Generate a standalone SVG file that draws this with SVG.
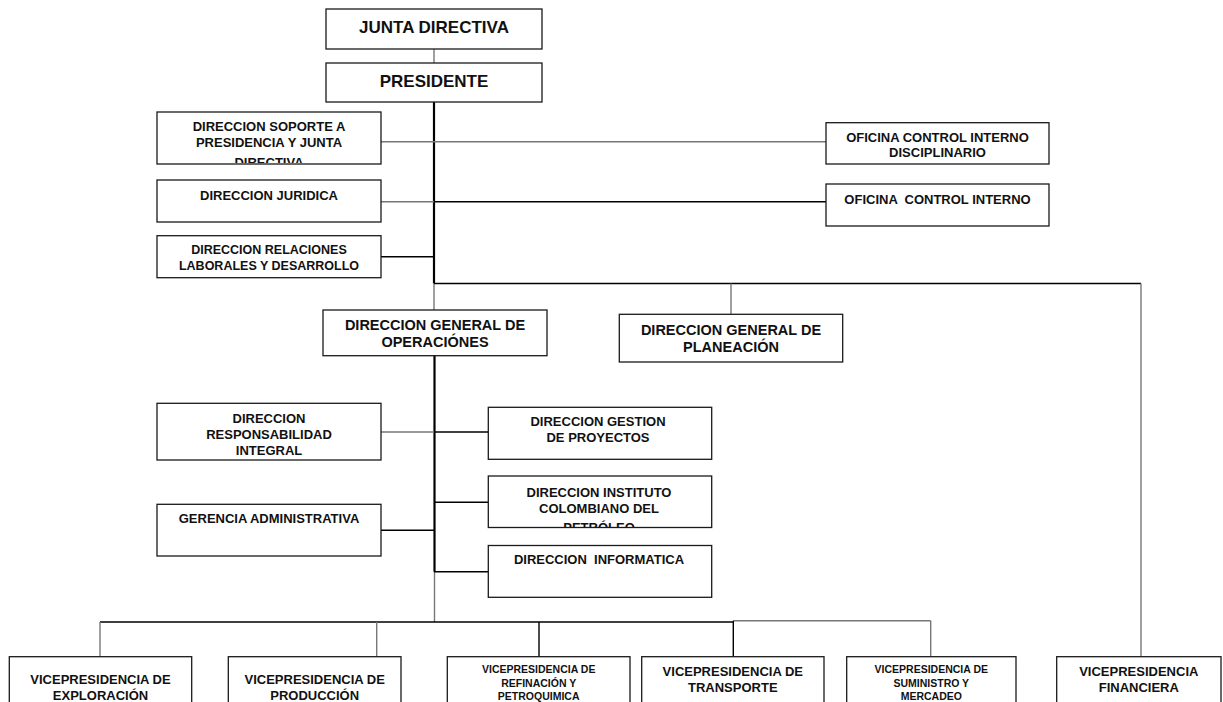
<svg xmlns="http://www.w3.org/2000/svg" width="1223" height="702" viewBox="0 0 1223 702">
<style>
.box{fill:#fff;stroke:#1a1a1a;stroke-width:1.3}
.t{font-family:"Liberation Sans",Arial,sans-serif;font-weight:bold;fill:#111;text-anchor:middle;white-space:pre}
.f17{font-size:17px}.f145{font-size:14.5px}.f13{font-size:13px}.f125{font-size:12.5px}.f105{font-size:10.5px}
.k{stroke:#000;stroke-width:1.4;fill:none}
.kb{stroke:#000;stroke-width:2.2;fill:none}
.g{stroke:#777;stroke-width:1.4;fill:none}
</style>
<defs>
<clipPath id="c1"><rect x="158" y="113" width="222" height="50"/></clipPath>
<clipPath id="c2"><rect x="489" y="477" width="222" height="50"/></clipPath>
</defs>
<rect width="1223" height="702" fill="#fff"/>
<g id="connectors">
<line class="g" x1="434" y1="49" x2="434" y2="63"/>
<line class="kb" x1="434" y1="102" x2="434" y2="283.5"/>
<line class="g" x1="434" y1="283.5" x2="434" y2="310"/>
<line class="g" x1="381" y1="141.7" x2="826" y2="141.7"/>
<line class="g" x1="381" y1="201.7" x2="434" y2="201.7"/>
<line class="k" x1="434" y1="201.7" x2="826" y2="201.7"/>
<line class="k" x1="381" y1="256.7" x2="434" y2="256.7"/>
<line class="k" x1="434" y1="283.5" x2="1141" y2="283.5"/>
<line class="g" x1="731" y1="283.5" x2="731" y2="314"/>
<line class="g" x1="1141" y1="283.5" x2="1141" y2="656.7"/>
<line class="kb" x1="434.5" y1="356" x2="434.5" y2="571.7"/>
<line class="g" x1="434.5" y1="571.7" x2="434.5" y2="622"/>
<line class="g" x1="381" y1="432" x2="434" y2="432"/>
<line class="k" x1="434" y1="432" x2="488" y2="432"/>
<line class="k" x1="434" y1="502.3" x2="488" y2="502.3"/>
<line class="k" x1="381" y1="530.3" x2="434" y2="530.3"/>
<line class="k" x1="434" y1="571.7" x2="488" y2="571.7"/>
<line class="k" x1="100" y1="622" x2="733.3" y2="622"/>
<line class="g" x1="733.3" y1="620.7" x2="930.7" y2="620.7"/>
<line class="g" x1="100" y1="622" x2="100" y2="656.7"/>
<line class="g" x1="376.7" y1="622" x2="376.7" y2="656.7"/>
<line class="k" x1="539" y1="622" x2="539" y2="656.7"/>
<line class="k" x1="733.3" y1="620.7" x2="733.3" y2="656.7"/>
<line class="g" x1="930.7" y1="620.7" x2="930.7" y2="656.7"/>
</g>
<g id="junta"><rect class="box" x="326" y="9" width="216" height="40"/><text class="t f17" x="434" y="33">JUNTA DIRECTIVA</text></g>
<g id="presidente"><rect class="box" x="326" y="63" width="216" height="39"/><text class="t f17" x="434" y="87.3">PRESIDENTE</text></g>
<g id="soporte"><rect class="box" x="157" y="112" width="224" height="52"/>
<g clip-path="url(#c1)"><text class="t f13" x="269" y="130.5">DIRECCION SOPORTE A</text><text class="t f13" x="269" y="146.5">PRESIDENCIA Y JUNTA</text><text class="t f13" x="269" y="166.5">DIRECTIVA</text></g></g>
<g id="disciplinario"><rect class="box" x="826" y="122.7" width="223" height="41.3"/><text class="t f13" x="937.5" y="142.3">OFICINA CONTROL INTERNO</text><text class="t f13" x="937.5" y="157.3">DISCIPLINARIO</text></g>
<g id="juridica"><rect class="box" x="157" y="180" width="224" height="42"/><text class="t f13" x="269" y="200">DIRECCION JURIDICA</text></g>
<g id="controlinterno"><rect class="box" x="826" y="184" width="223" height="42"/><text class="t f13" x="937.5" y="204">OFICINA  CONTROL INTERNO</text></g>
<g id="relaciones"><rect class="box" x="157" y="235.7" width="224" height="42"/><text class="t f125" x="269" y="254.3">DIRECCION RELACIONES</text><text class="t f125" x="269" y="270">LABORALES Y DESARROLLO</text></g>
<g id="operaciones"><rect class="box" x="323" y="310" width="224" height="45.7"/><text class="t f145" x="435" y="330">DIRECCION GENERAL DE</text><text class="t f145" x="435" y="346.7">OPERACIÓNES</text></g>
<g id="planeacion"><rect class="box" x="619.3" y="314.3" width="223.4" height="47.7"/><text class="t f145" x="731" y="335">DIRECCION GENERAL DE</text><text class="t f145" x="731" y="352.3">PLANEACIÓN</text></g>
<g id="responsabilidad"><rect class="box" x="157" y="403.3" width="224" height="56.7"/><text class="t f13" x="269" y="422.5">DIRECCION</text><text class="t f13" x="269" y="439">RESPONSABILIDAD</text><text class="t f13" x="269" y="455">INTEGRAL</text></g>
<g id="gestion"><rect class="box" x="488.3" y="407.3" width="223.4" height="52"/><text class="t f13" x="598" y="426">DIRECCION GESTION</text><text class="t f13" x="598" y="442">DE PROYECTOS</text></g>
<g id="instituto"><rect class="box" x="488.3" y="476" width="223.4" height="51.5"/>
<g clip-path="url(#c2)"><text class="t f13" x="599" y="496.5">DIRECCION INSTITUTO</text><text class="t f13" x="599" y="512.5">COLOMBIANO DEL</text><text class="t f13" x="599" y="531.5">PETRÓLEO</text></g></g>
<g id="gerencia"><rect class="box" x="157" y="504.3" width="224" height="51.7"/><text class="t f13" x="269" y="523.3">GERENCIA ADMINISTRATIVA</text></g>
<g id="informatica"><rect class="box" x="488.3" y="545.5" width="223.4" height="51.8"/><text class="t f13" x="599" y="564.3">DIRECCION  INFORMATICA</text></g>
<g id="vp-exploracion"><rect class="box" x="9.3" y="656.7" width="182.4" height="60"/><text class="t f13" x="100.5" y="684">VICEPRESIDENCIA DE</text><text class="t f13" x="100.5" y="699.5">EXPLORACIÓN</text></g>
<g id="vp-produccion"><rect class="box" x="228.3" y="656.7" width="172.7" height="60"/><text class="t f13" x="314.7" y="684">VICEPRESIDENCIA DE</text><text class="t f13" x="314.7" y="699.5">PRODUCCIÓN</text></g>
<g id="vp-refinacion"><rect class="box" x="447.3" y="656.7" width="182.7" height="60"/><text class="t f105" x="538.7" y="673.3">VICEPRESIDENCIA DE</text><text class="t f105" x="538.7" y="686.8">REFINACIÓN Y</text><text class="t f105" x="538.7" y="699.5">PETROQUIMICA</text></g>
<g id="vp-transporte"><rect class="box" x="641.7" y="656.7" width="182.3" height="60"/><text class="t f13" x="732.8" y="676">VICEPRESIDENCIA DE</text><text class="t f13" x="732.8" y="691.7">TRANSPORTE</text></g>
<g id="vp-suministro"><rect class="box" x="846.7" y="656.7" width="169.3" height="60"/><text class="t f105" x="931.3" y="673.3">VICEPRESIDENCIA DE</text><text class="t f105" x="931.3" y="686.8">SUMINISTRO Y</text><text class="t f105" x="931.3" y="699.5">MERCADEO</text></g>
<g id="vp-financiera"><rect class="box" x="1056.7" y="656.7" width="164.3" height="60"/><text class="t f13" x="1138.8" y="676">VICEPRESIDENCIA</text><text class="t f13" x="1138.8" y="691.7">FINANCIERA</text></g>
</svg>
